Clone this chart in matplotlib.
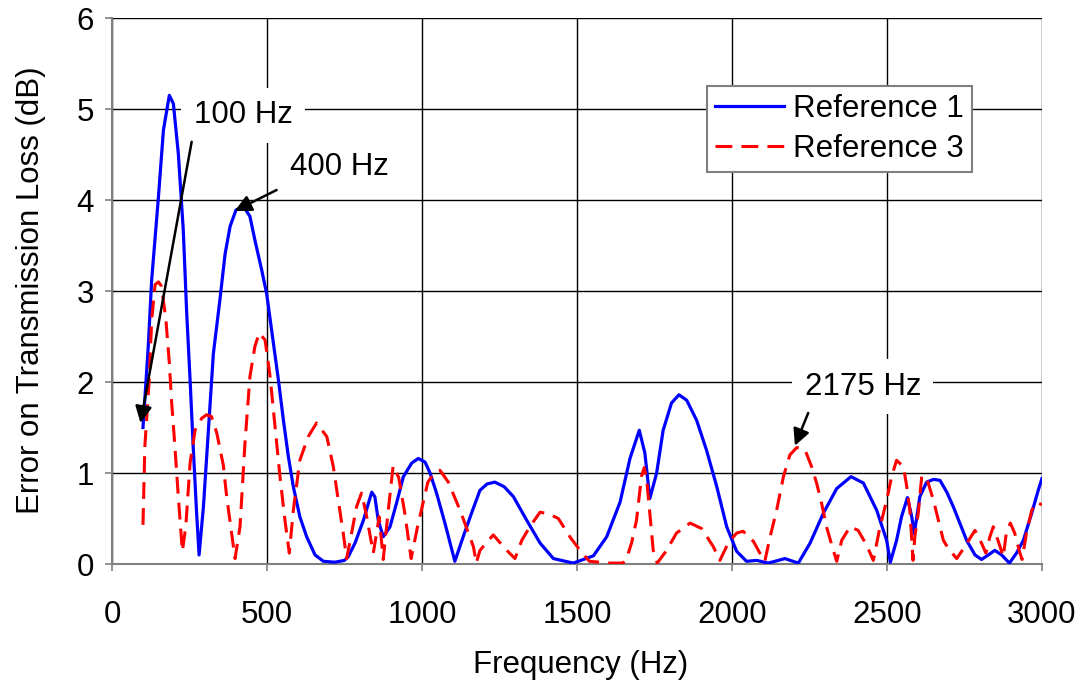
import numpy as np
import matplotlib.pyplot as plt

plt.rcParams['font.family'] = ['Liberation Sans', 'DejaVu Sans']

# Reference 1 (solid blue)
freq_ref1 = [100, 117, 128, 150, 166, 185, 198, 214, 230, 241, 252, 262, 273, 281, 295,
             311, 327, 348, 365, 381, 400, 424, 445, 461, 483, 499, 515, 537, 553, 569,
             585, 606, 628, 655, 682, 719, 750, 762, 784, 811, 838, 848, 859, 875, 897,
             918, 940, 967, 988, 1010, 1026, 1047, 1074, 1106, 1133, 1160, 1187, 1210, 1235,
             1265, 1295, 1338, 1381, 1424, 1488, 1553, 1596, 1639, 1671, 1701, 1719, 1735,
             1757, 1778, 1805, 1829, 1854, 1886, 1918, 1951, 1983, 2015, 2047, 2080, 2117,
             2171, 2214, 2252, 2295, 2338, 2384, 2424, 2467, 2499, 2511, 2531, 2547, 2566,
             2580, 2588, 2606, 2628, 2650, 2671, 2693, 2714, 2735, 2757, 2784, 2805, 2827,
             2848, 2870, 2895, 2918, 2940, 2967, 2988, 3000]
err_ref1 = [1.50, 2.39, 3.12, 4.04, 4.77, 5.15, 5.06, 4.51, 3.67, 2.76, 2.02, 1.29, 0.56, 0.10, 0.63,
            1.47, 2.31, 2.90, 3.41, 3.71, 3.89, 3.93, 3.82, 3.56, 3.23, 2.97, 2.57, 2.02, 1.58, 1.18,
            0.85, 0.52, 0.30, 0.10, 0.03, 0.02, 0.04, 0.08, 0.23, 0.48, 0.79, 0.74, 0.48, 0.30, 0.41,
            0.67, 0.96, 1.11, 1.16, 1.12, 1.00, 0.78, 0.45, 0.03, 0.30, 0.56, 0.81, 0.88, 0.90,
            0.85, 0.74, 0.48, 0.23, 0.06, 0.01, 0.09, 0.30, 0.68, 1.16, 1.47, 1.22, 0.72,
            1.00, 1.47, 1.77, 1.86, 1.80, 1.58, 1.25, 0.85, 0.41, 0.14, 0.03, 0.04, 0.01,
            0.06, 0.01, 0.23, 0.56, 0.83, 0.96, 0.89, 0.59, 0.26, 0.02, 0.26, 0.52, 0.73,
            0.52, 0.33, 0.74, 0.90, 0.93, 0.92, 0.79, 0.63, 0.45, 0.26, 0.10, 0.05, 0.10,
            0.15, 0.10, 0.01, 0.12, 0.26, 0.56, 0.81, 0.94]

# Reference 3 (dashed red)
freq_ref3 = [100, 106, 120, 128, 139, 150, 160, 174, 185, 192, 203, 214, 227, 238, 252,
             268, 289, 305, 321, 338, 359, 370, 386, 397, 413, 429, 445, 461, 475, 494,
             510, 526, 542, 558, 572, 585, 606, 633, 660, 693, 714, 730, 746, 757, 773,
             789, 805, 820, 843, 862, 875, 890, 907, 925, 945, 965, 985, 1019, 1040, 1058,
             1085, 1123, 1166, 1175, 1187, 1230, 1268, 1300, 1322, 1348, 1381, 1410, 1440,
             1477, 1510, 1540, 1606, 1648, 1660, 1676, 1692, 1708, 1717, 1725, 1735, 1746,
             1759, 1789, 1821, 1865, 1902, 1940, 1961, 1988, 2015, 2036, 2069, 2090, 2106,
             2123, 2144, 2166, 2187, 2209, 2235, 2257, 2273, 2289, 2305, 2327, 2338, 2354,
             2381, 2407, 2434, 2456, 2477, 2499, 2515, 2531, 2553, 2563, 2574, 2584, 2590,
             2601, 2612, 2623, 2633, 2650, 2666, 2682, 2698, 2725, 2747, 2784, 2805, 2819,
             2832, 2843, 2865, 2875, 2885, 2898, 2912, 2929, 2936, 2950, 2967, 2983, 3000]
err_ref3 = [0.43, 1.29, 2.02, 2.68, 3.07, 3.10, 3.05, 2.68, 2.21, 1.80, 1.29, 0.74, 0.14, 0.41, 1.11,
            1.47, 1.60, 1.64, 1.62, 1.44, 1.09, 0.74, 0.34, 0.06, 0.41, 1.33, 2.06, 2.39, 2.54, 2.46,
            2.06, 1.51, 0.96, 0.48, 0.12, 0.59, 1.14, 1.40, 1.55, 1.40, 1.07, 0.70, 0.34, 0.06, 0.34,
            0.63, 0.78, 0.55, 0.12, 0.52, 0.05, 0.55, 1.08, 0.95, 0.55, 0.06, 0.40, 0.90, 1.00, 1.03,
            0.90, 0.59, 0.19, 0.01, 0.15, 0.32, 0.17, 0.06, 0.26, 0.41, 0.57, 0.55, 0.50,
            0.30, 0.15, 0.03, 0.01, 0.01, 0.06, 0.23, 0.48, 0.96, 1.06, 0.92, 0.56, 0.15,
            0.01, 0.15, 0.34, 0.45, 0.39, 0.19, 0.04, 0.23, 0.34, 0.36, 0.25, 0.12, 0.03,
            0.30, 0.59, 0.96, 1.20, 1.28, 1.26, 1.07, 0.89, 0.67, 0.41, 0.15, 0.03, 0.26,
            0.41, 0.37, 0.21, 0.04, 0.40, 0.70, 0.96, 1.14, 1.07, 0.87, 0.59, 0.04, 0.30,
            0.56, 0.96, 0.97, 0.89, 0.70, 0.48, 0.26, 0.17, 0.06, 0.17, 0.37, 0.23, 0.12,
            0.30, 0.41, 0.19, 0.08, 0.34, 0.45, 0.34, 0.12, 0.05, 0.34, 0.59, 0.68, 0.65]

x_ticks = [0, 500, 1000, 1500, 2000, 2500, 3000]
y_ticks = [0, 1, 2, 3, 4, 5, 6]

fs = 22.5
fig = plt.figure(figsize=(10.83, 6.85), dpi=100)
ax = fig.add_axes([0.1034, 0.1766, 0.8587, 0.7971])

ax.plot(freq_ref1, err_ref1, color='#0000FF', lw=2.3, label='Reference 1', zorder=3)
ax.plot(freq_ref3, err_ref3, color='#FF0000', lw=2.2, dashes=(5.5, 3.0), label='Reference 3', zorder=4)

ax.set_xlim(0, 3000)
ax.set_ylim(0, 6)
ax.set_xticks(x_ticks)
ax.set_yticks(y_ticks)
ax.grid(True, color='black', lw=1.0)
ax.set_axisbelow(True)
for s in ['top', 'right']:
    ax.spines[s].set_visible(False)
for s in ['left', 'bottom']:
    ax.spines[s].set_color('#808080')
    ax.spines[s].set_linewidth(1.5)
ax.tick_params(axis='both', labelsize=fs, color='#808080', length=5, width=1.2)
ax.tick_params(axis='x', pad=21)
ax.tick_params(axis='y', pad=8)

ax.set_xlabel('Frequency (Hz)', fontsize=fs, va='center')
ax.xaxis.set_label_coords(0.504, -0.185)
ax.set_ylabel('Error on Transmission Loss (dB)', fontsize=fs, va='center')
ax.yaxis.set_label_coords(-0.087, 0.502)

leg = ax.legend(loc='upper right', bbox_to_anchor=(0.9247, 0.8755), fontsize=fs,
                frameon=True, fancybox=False, framealpha=1, edgecolor='#808080',
                handlelength=2.2, handletextpad=0.3, labelspacing=0.32, borderpad=0.25,
                borderaxespad=0)
leg.get_frame().set_linewidth(1.5)

box = dict(boxstyle='square,pad=0.4', fc='white', ec='none')
arrow = dict(arrowstyle='-|>', color='black', lw=1.8, mutation_scale=25, shrinkA=0, shrinkB=0)

ax.text(423, 4.93, '100 Hz', fontsize=fs, ha='center', va='center', bbox=box, zorder=5)
ax.annotate('', xy=(92, 1.55), xytext=(257, 4.64), arrowprops=arrow, zorder=6)
ax.text(735, 4.36, '400 Hz', fontsize=fs, ha='center', va='center', bbox=box, zorder=5)
ax.annotate('', xy=(396, 3.88), xytext=(531, 4.11), arrowprops=arrow, zorder=6)
ax.text(2422, 1.95, '2175 Hz', fontsize=fs, ha='center', va='center', bbox=box, zorder=5)
ax.annotate('', xy=(2203, 1.30), xytext=(2246, 1.66), arrowprops=arrow, zorder=6)

fig.savefig('out.png', dpi=100)
